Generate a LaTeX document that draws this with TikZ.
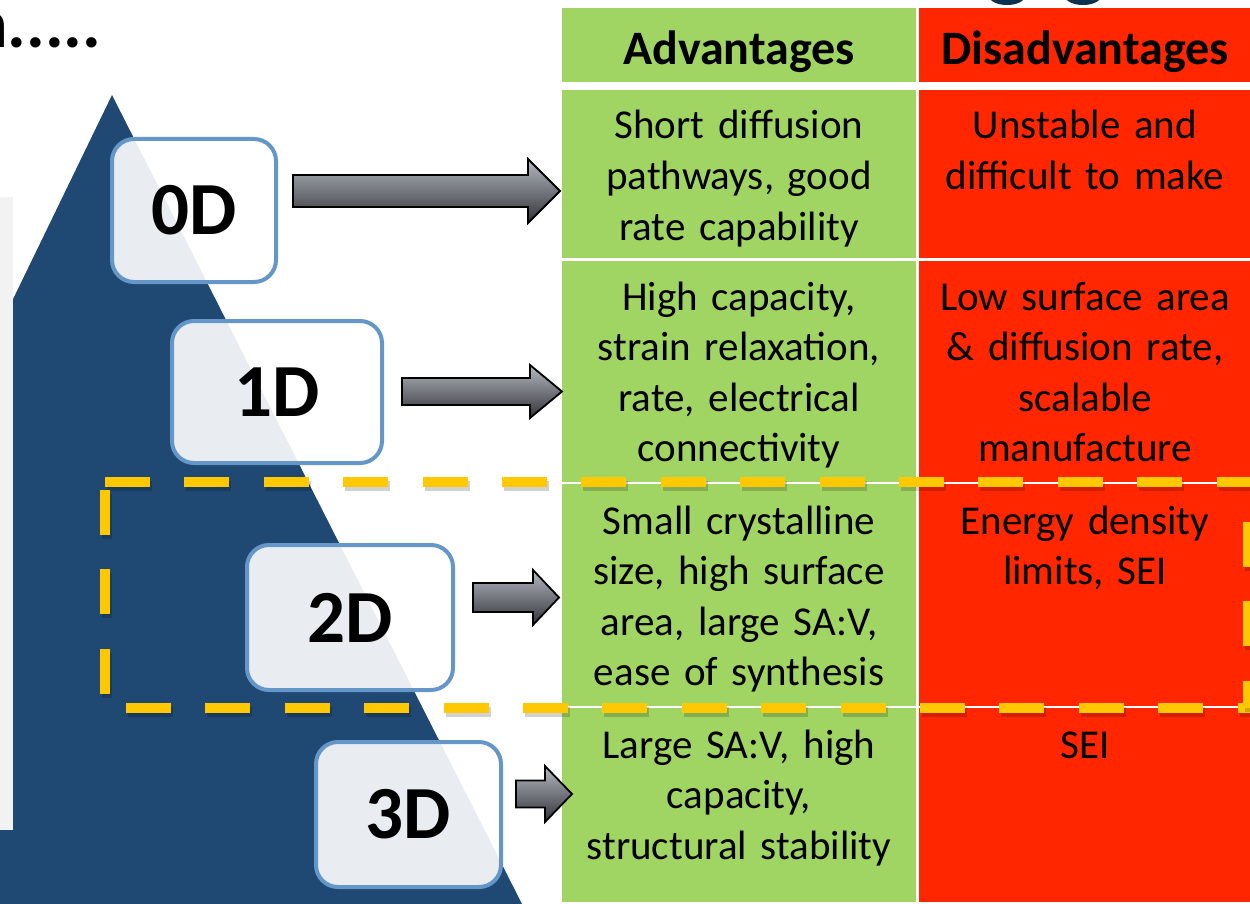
\documentclass[tikz,border=0pt]{standalone}
\usepackage{fontspec}
\setmainfont{Carlito}
\definecolor{tri}{RGB}{31,73,115}
\definecolor{boxb}{RGB}{100,150,200}
\definecolor{adv}{RGB}{161,213,99}
\definecolor{dis}{RGB}{255,38,0}
\definecolor{dashy}{RGB}{255,200,0}
\definecolor{panel}{RGB}{242,242,242}
\definecolor{arrtop}{RGB}{180,184,192}
\definecolor{arrbot}{RGB}{50,52,57}
\definecolor{blob}{RGB}{12,50,80}
\newcommand{\blockarr}[6]{%
  \path[blockarrow] (#1,#4-#5) -- (#2,#4-#5) -- (#2,#4-#6) -- (#3,#4) -- (#2,#4+#6) -- (#2,#4+#5) -- (#1,#4+#5) -- cycle;}
\newcommand{\yline}[2]{%
  \draw[yshadow] ($(#1)+(2,4)$) -- ($(#2)+(2,4)$);
  \draw[ydash] (#1) -- (#2);}
\usetikzlibrary{calc}
\begin{document}
\begin{tikzpicture}[x=1pt,y=-1pt,
  dimbox/.style={draw=boxb, line width=4pt, fill=white, fill opacity=0.9, text opacity=1,
    rounded corners=22pt, font=\bfseries\fontsize{75}{75}\selectfont, inner sep=0pt},
  cell/.style={inner sep=0pt, font=\fontsize{41}{50.6}\selectfont, align=center, text width=350pt, anchor=base},
  head/.style={font=\bfseries\fontsize{48}{50}\selectfont, inner sep=0pt, anchor=base},
  ydash/.style={draw=dashy, line width=10pt, dash pattern=on 45pt off 34.4pt},
  yshadow/.style={draw=black, opacity=0.18, line width=10pt, dash pattern=on 45pt off 34.4pt},
  blockarrow/.style={draw=black, line width=1.8pt, top color=arrtop, bottom color=arrbot, line join=miter}
]
\useasboundingbox (0,0) rectangle (1250,904);
\fill[white] (0,0) rectangle (1250,904);
% top blobs
\fill[blob] (1007,-4) ellipse (18 and 9);
\fill[blob] (1083,-4) ellipse (18 and 9);
% title fragment
\node[font=\bfseries\fontsize{70}{70}\selectfont, inner sep=0pt, anchor=base west] (title) at (-30,48) {n.....};
% triangle
\fill[tri] (112,95) -- (0,326) -- (0,904) -- (522,904) -- cycle;
\fill[panel] (0,197) rectangle (12.5,830);
% table
\fill[adv] (562,8) rectangle (916,82);
\fill[dis] (919,8) rectangle (1250,82);
\fill[adv] (562,90) rectangle (916,258);
\fill[dis] (919,90) rectangle (1250,258);
\fill[adv] (562,261) rectangle (916,482);
\fill[dis] (919,261) rectangle (1250,482);
\fill[adv] (562,484) rectangle (916,706);
\fill[dis] (919,484) rectangle (1250,706);
\fill[adv] (562,708) rectangle (916,902);
\fill[dis] (919,708) rectangle (1250,902);
\node[head] (hadv) at (739,65) {Advantages};
\node[head] (hdis) at (1085,65) {Disadvantages};
\node[cell] (a0) at (739,139) {Short diffusion\\pathways, good\\rate capability};
\node[cell] (d0) at (1085,139) {Unstable and\\difficult to make};
\node[cell] (a1) at (739,310) {High capacity,\\strain relaxation,\\rate, electrical\\connectivity};
\node[cell] (d1) at (1085,310) {Low surface area\\\&{} diffusion rate,\\scalable\\manufacture};
\node[cell] (a2) at (739,534) {Small crystalline\\size, high surface\\area, large SA:V,\\ease of synthesis};
\node[cell] (d2) at (1085,534) {Energy density\\limits, SEI};
\node[cell] (a3) at (739,758) {Large SA:V, high\\capacity,\\structural stability};
\node[cell] (d3) at (1085,758) {SEI};
% boxes
\node[dimbox, minimum width=164pt, minimum height=143pt] (b0) at (194,210.5) {0D};
\node[dimbox, minimum width=210pt, minimum height=142pt] (b1) at (277,392) {1D};
\node[dimbox, minimum width=206pt, minimum height=145pt] (b2) at (350,617.5) {2D};
\node[dimbox, minimum width=185pt, minimum height=145pt] (b3) at (408.5,814.5) {3D};
% arrows
\blockarr{293}{528}{560}{191}{16}{32}
\blockarr{402}{530}{562}{391.5}{13.5}{26.5}
\blockarr{473}{533}{559}{597.5}{14.5}{27.5}
\blockarr{516}{545}{572}{794}{13.5}{28}
% dashed frame
\coordinate (tl) at (105,482);
\coordinate (tr) at (1250,482);
\coordinate (l1) at (105,490);
\coordinate (l2) at (105,700);
\coordinate (bl) at (126,708);
\coordinate (br) at (1250,708);
\coordinate (r1) at (1248,522);
\coordinate (r2) at (1248,708);
\yline{tl}{tr}
\yline{l1}{l2}
\yline{bl}{br}
\yline{r1}{r2}
\end{tikzpicture}
\end{document}
